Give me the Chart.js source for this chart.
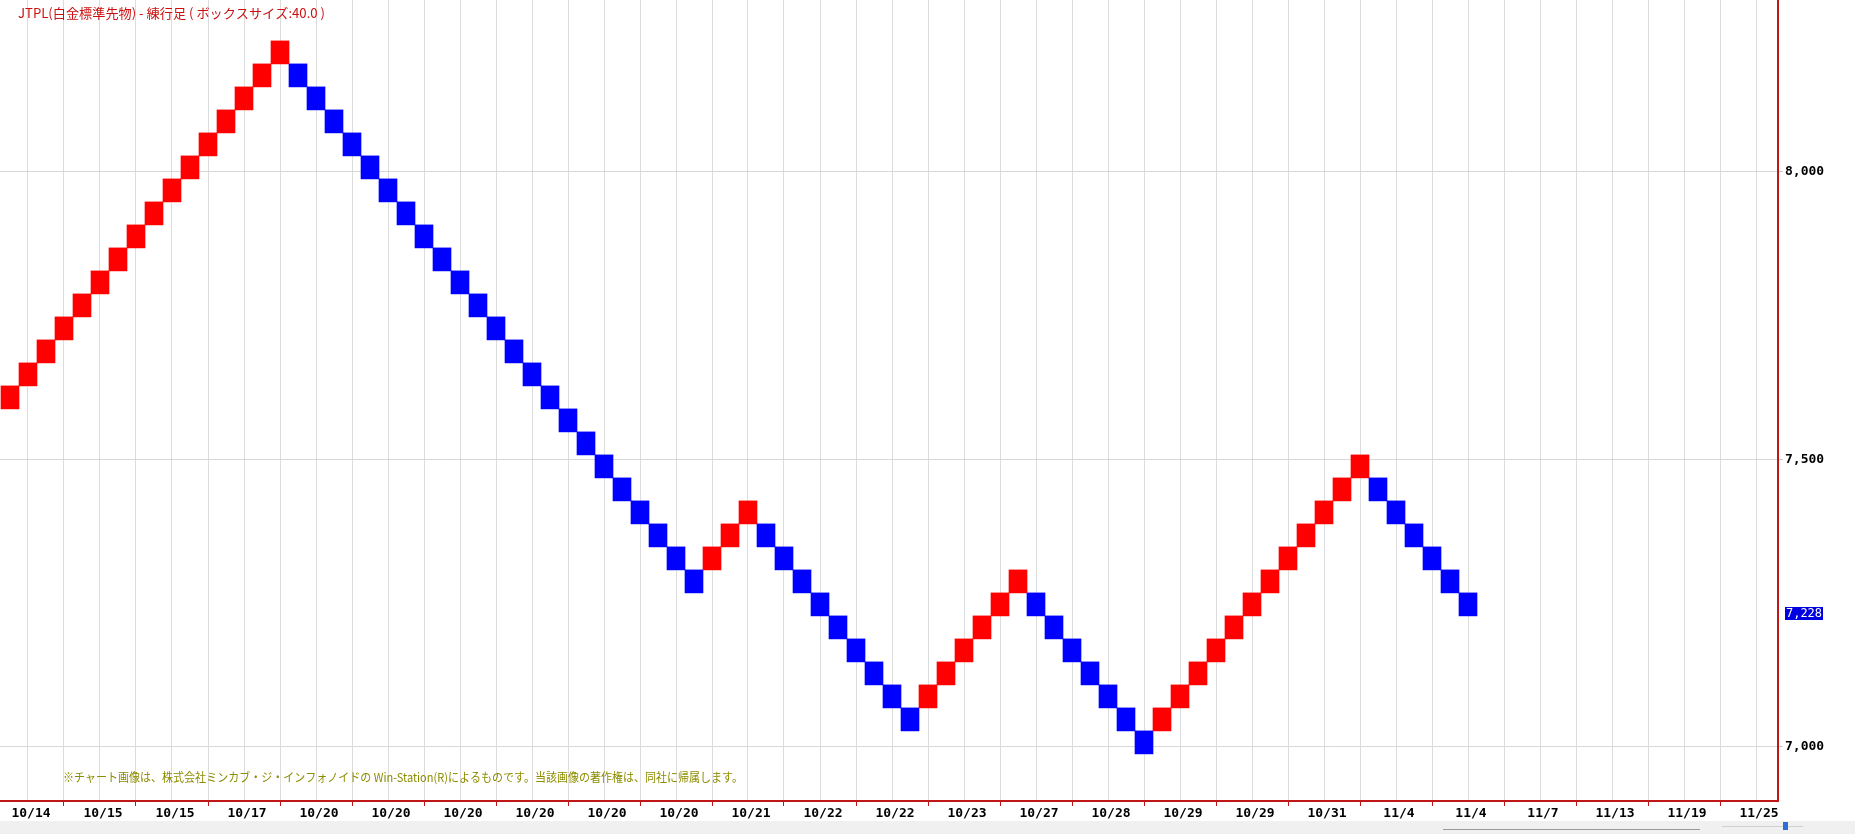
<!DOCTYPE html>
<html>
<head>
<meta charset="utf-8">
<script src="https://cdn.jsdelivr.net/npm/chart.js@4.4.1/dist/chart.umd.min.js"></script>
<style>
html,body{margin:0;padding:0;background:#fff;overflow:hidden}
#wrap{position:relative;width:1855px;height:834px}
canvas{display:block}
</style>
</head>
<body>
<div id="wrap"><canvas id="c" width="1855" height="834"></canvas></div>
<script>
// ---- text ----
const titleText = 'JTPL(白金標準先物) - 練行足 ( ボックスサイズ:40.0 )';
const footnoteText = '※チャート画像は、株式会社ミンカブ・ジ・インフォノイドの Win-Station(R)によるものです。当該画像の著作権は、同社に帰属します。';

// ---- data: one renko brick per column (box size 40) ----
const brickLow = [
  7588,7628,7668,7708,7748,7788,7828,7868,7908,7948,7988,8028,8068,8108,8148,8188,
  8148,8108,8068,8028,7988,7948,7908,7868,7828,7788,7748,7708,7668,7628,7588,7548,7508,7468,7428,7388,7348,7308,7268,
  7308,7348,7388,
  7348,7308,7268,7228,7188,7148,7108,7068,7028,
  7068,7108,7148,7188,7228,7268,
  7228,7188,7148,7108,7068,7028,6988,
  7028,7068,7108,7148,7188,7228,7268,7308,7348,7388,7428,7468,
  7428,7388,7348,7308,7268,7228
];
const brickHigh = [
  7628,7668,7708,7748,7788,7828,7868,7908,7948,7988,8028,8068,8108,8148,8188,8228,
  8188,8148,8108,8068,8028,7988,7948,7908,7868,7828,7788,7748,7708,7668,7628,7588,7548,7508,7468,7428,7388,7348,7308,
  7348,7388,7428,
  7388,7348,7308,7268,7228,7188,7148,7108,7068,
  7108,7148,7188,7228,7268,7308,
  7268,7228,7188,7148,7108,7068,7028,
  7068,7108,7148,7188,7228,7268,7308,7348,7388,7428,7468,7508,
  7468,7428,7388,7348,7308,7268
];
// 1 = up (red), -1 = down (blue)
const brickDirection = [
  1,1,1,1,1,1,1,1,1,1,1,1,1,1,1,1,
  -1,-1,-1,-1,-1,-1,-1,-1,-1,-1,-1,-1,-1,-1,-1,-1,-1,-1,-1,-1,-1,-1,-1,
  1,1,1,
  -1,-1,-1,-1,-1,-1,-1,-1,-1,
  1,1,1,1,1,1,
  -1,-1,-1,-1,-1,-1,-1,
  1,1,1,1,1,1,1,1,1,1,1,1,
  -1,-1,-1,-1,-1,-1
];
const lastPrice = 7228;

// ---- axis labels ----
const dateTickColumns = [0,4,8,12,16,20,24,28,32,36,40,44,48,52,56,60,64,68,72,76,80,84,88,92,96];
const dateLabels = ['10/14','10/15','10/15','10/17','10/20','10/20','10/20','10/20','10/20','10/20','10/21','10/22','10/22','10/23','10/27','10/28','10/29','10/29','10/31','11/4','11/4','11/7','11/13','11/19','11/25'];
const gridColumns = [0,2,4,6,8,10,12,14,16,18,20,22,24,26,28,30,32,34,36,38,40,42,44,46,48,50,52,54,56,58,60,62,64,66,68,70,72,74,76,78,80,82,84,86,88,90,92,94,96,98];
const priceTicks = [7000, 7500, 8000];

// ---- styles ----
const UP = '#ff0000', DOWN = '#0000ff', AXIS_RED = '#c01818';
const axisFont = {family:'"DejaVu Sans Mono", "Liberation Mono", monospace', size:13, weight:'bold'};

const points = brickLow.map((lo, i) => ({x: i, y: [lo, brickHigh[i]]}));

function noPad(s) { s.paddingLeft = 0; s.paddingRight = 0; s.paddingTop = 0; s.paddingBottom = 0; }

function fitText(c, text, x, y, width) {
  const w = c.measureText(text).width;
  c.save();
  c.translate(x, y);
  c.scale(width / w, 1);
  c.fillText(text, 0, 0);
  c.restore();
}

const decor = {
  id: 'decor',
  beforeDraw(chart) {
    const c = chart.ctx, W = chart.width, H = chart.height;
    c.save();
    c.fillStyle = '#ffffff';
    c.fillRect(0, 0, W, H);
    c.fillStyle = '#f0f0f0';
    c.fillRect(0, 821, W, H - 821);
    // scrollbar / slider decorations
    c.strokeStyle = '#9a9a9a'; c.lineWidth = 1;
    c.beginPath(); c.moveTo(1443, 829.5); c.lineTo(1700, 829.5); c.stroke();
    c.strokeStyle = '#d0d0d0';
    c.beginPath(); c.moveTo(1722, 826.5); c.lineTo(1803, 826.5); c.stroke();
    c.fillStyle = '#2a6fd6';
    c.fillRect(1783, 822, 5, 8);
    c.restore();
  },
  afterDraw(chart) {
    const c = chart.ctx;
    c.save();
    c.textBaseline = 'middle';
    c.textAlign = 'left';
    c.fillStyle = '#cc1010';
    c.font = '13px "Noto Sans CJK JP", sans-serif';
    fitText(c, titleText, 18, 13, 307);
    c.fillStyle = '#8c8c00';
    c.font = '12px "Noto Sans CJK JP", sans-serif';
    fitText(c, footnoteText, 63, 777, 680);
    // last price tag
    const py = chart.scales.y.getPixelForValue(lastPrice);
    c.fillStyle = '#0000e0';
    c.fillRect(1785, Math.round(py) - 9, 38, 13);
    c.fillStyle = '#ffffff';
    c.font = '12px "DejaVu Sans Mono", monospace';
    c.textAlign = 'center';
    c.fillText(lastPrice.toLocaleString('en-US'), 1804, Math.round(py) - 2.5);
    c.restore();
  }
};

new Chart(document.getElementById('c'), {
  type: 'bar',
  data: {
    datasets: [{
      data: points,
      backgroundColor: brickDirection.map(d => d > 0 ? UP : DOWN),
      borderWidth: 0,
      barPercentage: 1.0,
      categoryPercentage: 1.0
    }]
  },
  options: {
    responsive: false,
    animation: false,
    events: [],
    layout: {padding: 0},
    plugins: {legend: {display: false}, tooltip: {enabled: false}, title: {display: false}},
    scales: {
      x: {
        type: 'linear',
        min: -10 / 18,
        max: 1768 / 18,
        offset: false,
        afterBuildTicks: s => { s.ticks = gridColumns.map(v => ({value: v})); },
        afterFit: s => { s.height = 33; noPad(s); },
        grid: {
          color: '#dcdcdc',
          lineWidth: 1,
          drawTicks: true,
          tickLength: 5,
          tickWidth: 1,
          tickColor: ctx => (ctx.tick && dateTickColumns.includes(ctx.tick.value)) ? AXIS_RED : 'rgba(0,0,0,0)'
        },
        border: {color: AXIS_RED, width: 2},
        ticks: {
          autoSkip: false, maxRotation: 0, minRotation: 0,
          labelOffset: 21, padding: 0, color: '#000',
          font: axisFont,
          callback: v => { const k = dateTickColumns.indexOf(v); return k >= 0 ? dateLabels[k] : ''; }
        }
      },
      y: {
        position: 'right',
        min: 7000 - 54 / 0.575,
        max: 7000 - 54 / 0.575 + 801 / 0.575,
        afterBuildTicks: s => { s.ticks = priceTicks.map(v => ({value: v})); },
        afterFit: s => { s.width = 77; noPad(s); },
        grid: {color: '#d8d8d8', lineWidth: 1, drawTicks: true, tickLength: 5, tickColor: '#c8c8c8'},
        border: {color: AXIS_RED, width: 2},
        ticks: {
          padding: 2, color: '#000', font: axisFont,
          callback: v => Number(v).toLocaleString('en-US')
        }
      }
    }
  },
  plugins: [decor]
});
</script>
</body>
</html>
